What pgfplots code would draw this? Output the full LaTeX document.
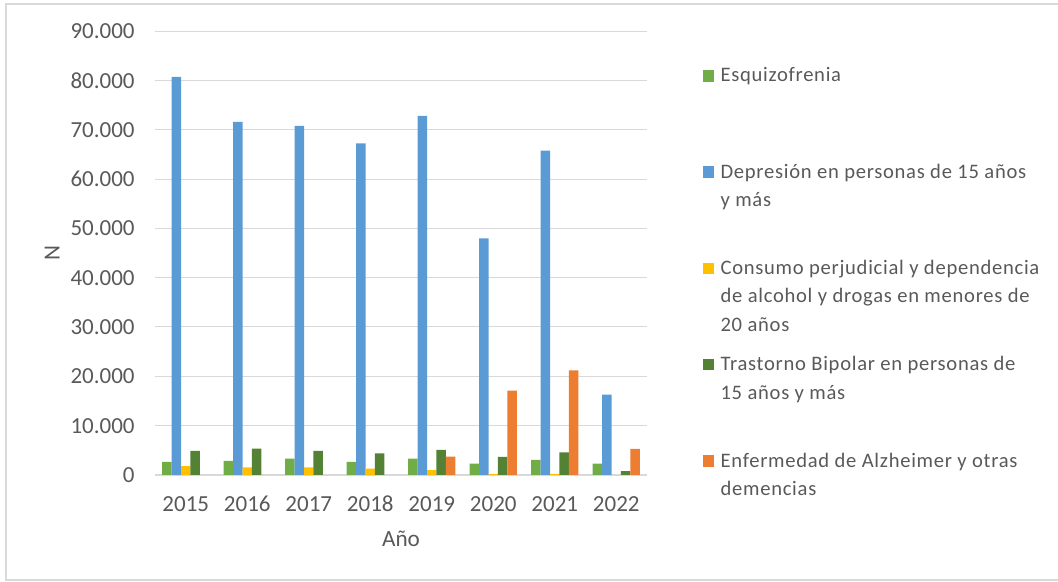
\documentclass[border=0pt]{standalone}
\usepackage{fontspec}
\setmainfont{Carlito}
\newfontfamily\legendfont{Carlito}[LetterSpace=3.5]
\usepackage{pgfplots}
\pgfplotsset{compat=1.18}

\definecolor{cEsq}{HTML}{70AD47}
\definecolor{cDep}{HTML}{5B9BD5}
\definecolor{cCon}{HTML}{FFC000}
\definecolor{cBip}{HTML}{548235}
\definecolor{cAlz}{HTML}{ED7D31}
\definecolor{textgray}{HTML}{595959}
\definecolor{gridgray}{HTML}{D9D9D9}

% legend entries: left-aligned text blocks, first line on the row baseline
\newcommand{\entry}[1]{\parbox[t]{180pt}{\strut #1}}

\begin{document}
\begin{tikzpicture}
\useasboundingbox (0,0) rectangle (529pt,291pt);
\draw[draw=gridgray, line width=0.6pt] (3pt,1pt) rectangle (545pt,289pt);

\begin{axis}[
  at={(77.5pt,53.5pt)}, anchor=south west,
  scale only axis, width=246pt, height=222pt,
  xmin=-0.5, xmax=7.5, ymin=0, ymax=90000,
  ybar=0pt, bar width=4.73pt,
  xtick={0,...,7},
  xticklabels={2015,2016,2017,2018,2019,2020,2021,2022},
  ytick={0,10000,...,90000},
  scaled y ticks=false,
  /pgf/number format/1000 sep={.},
  /pgf/number format/assume math mode=true,
  ymajorgrids,
  grid style={draw=gridgray, line width=0.5pt},
  extra y ticks={0}, extra y tick labels={},
  extra y tick style={grid style={draw=gridgray, line width=1pt}},
  major tick length=0pt,
  axis line style={draw=none},
  tick label style={font=\fontsize{11.5}{13.8}\selectfont, text=textgray},
  yticklabel style={anchor=east, inner sep=0pt, xshift=-10pt},
  xticklabel style={anchor=base, inner sep=0pt, yshift=-18.5pt},
  label style={font=\fontsize{11.6}{13.8}\selectfont, text=textgray},
  xlabel={Año},
  xlabel style={at={(axis description cs:0.5,-0.1615)}, anchor=base, inner sep=0pt},
  ylabel={N},
  ylabel style={at={(axis description cs:-0.1931,0.5)}, anchor=south, inner sep=0pt},
  legend image code/.code={\fill[#1, draw=none] (0pt,0.2pt) rectangle (5.75pt,5.9pt);},
  legend style={
    at={(axis description cs:1.11321,0.93000)}, anchor=north west,
    draw=none, fill=none, inner sep=0pt, outer sep=0pt,
    font=\legendfont\fontsize{10.3}{14.2}\selectfont, text=textgray,
    row sep=0pt, column sep=3.2pt,
    nodes={inner sep=0pt, outer sep=0pt, text height=9.94pt, text depth=38.2pt},
    cells={anchor=base west},
  },
]
\addplot[fill=cEsq, draw=none] coordinates {
  (0,2640) (1,2840) (2,3300) (3,2640) (4,3300) (5,2300) (6,3040) (7,2300)};
\addplot[fill=cDep, draw=none] coordinates {
  (0,80700) (1,71560) (2,70750) (3,67240) (4,72780) (5,47970) (6,65730) (7,16300)};
\addplot[fill=cCon, draw=none] coordinates {
  (0,1800) (1,1560) (2,1560) (3,1300) (4,1000) (5,250) (6,250)};
\addplot[fill=cBip, draw=none] coordinates {
  (0,4870) (1,5330) (2,4870) (3,4400) (4,5100) (5,3650) (6,4600) (7,800)};
\addplot[fill=cAlz, draw=none] coordinates {
  (4,3700) (5,17100) (6,21200) (7,5300)};
\legend{
  \entry{Esquizofrenia},
  \entry{Depresión en personas de 15 años\\y más},
  \entry{Consumo perjudicial y dependencia\\de alcohol y drogas en menores de\\20 años},
  \entry{Trastorno Bipolar en personas de\\15 años y más},
  \entry{Enfermedad de Alzheimer y otras\\demencias}
}
\end{axis}
\end{tikzpicture}
\end{document}
